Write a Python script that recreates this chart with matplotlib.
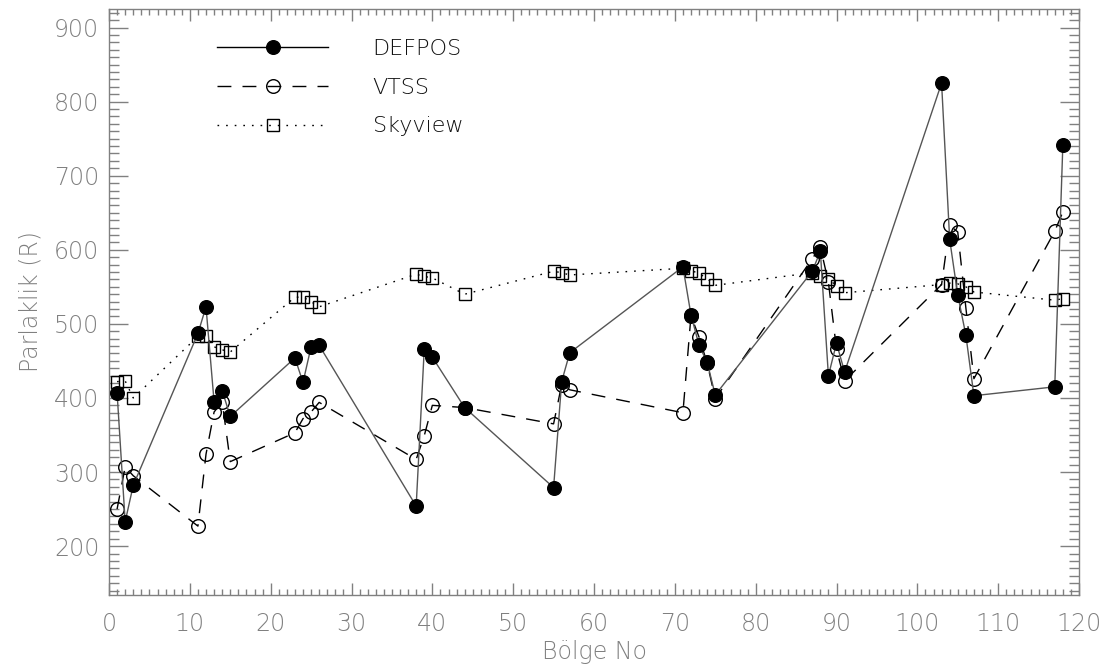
import matplotlib
matplotlib.use("Agg")
import matplotlib.pyplot as plt
from matplotlib.lines import Line2D
from matplotlib.ticker import MultipleLocator

# ---- data ----
wave_no = [1, 2, 3, 11, 12, 13, 14, 15, 23, 24, 25, 26, 38, 39, 40, 44,
           55, 56, 57, 71, 72, 73, 74, 75, 87, 88, 89, 90, 91,
           103, 104, 105, 106, 107, 117, 118]

defpos = [407, 233, 282, 487, 523, 395, 410, 375, 454, 421, 469, 471,
          254, 466, 455, 387, 279, 422, 461, 577, 512, 471, 448, 404,
          571, 598, 430, 474, 435, 825, 614, 539, 485, 403, 415, 741]

vtss = [250, 307, 295, 227, 324, 381, 395, 314, 353, 372, 381, 394,
        317, 349, 390, 387, 365, 418, 411, 380, 511, 482, 447, 399,
        588, 604, 556, 466, 423, 553, 633, 624, 522, 426, 625, 651]

skyview = [422, 423, 400, 483, 483, 469, 465, 462, 536, 536, 530, 523,
           567, 564, 562, 540, 571, 569, 566, 575, 572, 568, 561, 552,
           569, 565, 561, 551, 542, 553, 555, 554, 550, 543, 532, 534]

series_names = ["DEFPOS", "VTSS", "Skyview"]
x_label = "Bölge No"
y_label = "Parlaklik (R)"

# ---- style ----
GRAY = "#808080"
plt.rcParams["font.family"] = ["DejaVu Sans"]

fig = plt.figure(figsize=(11.12, 6.72), dpi=100)
W, H = 1112, 672
left, right, top, bottom = 109, 1079, 9, 595
ax = fig.add_axes([left / W, 1 - bottom / H, (right - left) / W, (bottom - top) / H])

ax.plot(wave_no, vtss, color="black", lw=1.0, dashes=(10, 8),
        marker="o", ms=9.8, mfc="none", mec="black", mew=1.0, zorder=3)
ax.plot(wave_no, skyview, color="black", lw=1.0, dashes=(1.2, 5),
        marker="s", ms=9, mfc="none", mec="black", mew=1.0, zorder=3)
ax.plot(wave_no, defpos, color="#555555", lw=1.0, ls="-",
        marker="o", ms=9.8, mfc="black", mec="black", mew=1.0, zorder=4)

ax.set_xlim(0, 120)
ax.set_ylim(134, 925)

ax.xaxis.set_major_locator(MultipleLocator(10))
ax.xaxis.set_minor_locator(MultipleLocator(1))
ax.yaxis.set_major_locator(MultipleLocator(100))
ax.yaxis.set_minor_locator(MultipleLocator(10))

for s in ax.spines.values():
    s.set_color(GRAY)
    s.set_linewidth(1.0)

ax.tick_params(axis="both", which="both", direction="in", colors=GRAY,
               top=True, right=True, labelsize=17, width=1.0)
ax.tick_params(axis="x", which="major", length=8.5, pad=12)
ax.tick_params(axis="x", which="minor", length=4.3)
ax.tick_params(axis="y", which="major", length=14, pad=7)
ax.tick_params(axis="y", which="minor", length=7)
for lbl in ax.get_xticklabels() + ax.get_yticklabels():
    lbl.set_fontweight("light")

ax.set_xlabel(x_label, fontsize=17, color=GRAY, labelpad=3, fontweight="light")
ax.set_ylabel(y_label, fontsize=17, color=GRAY, labelpad=8, fontweight="light")

handles = [
    Line2D([], [], color="black", lw=1.0, marker="o", ms=9.8, mfc="black", mec="black"),
    Line2D([], [], color="black", lw=1.0, dashes=(10, 8), marker="o", ms=9.8, mfc="none", mec="black"),
    Line2D([], [], color="black", lw=1.0, dashes=(1.2, 5), marker="s", ms=9, mfc="none", mec="black"),
]
leg = ax.legend(handles, series_names, loc="upper left",
                bbox_to_anchor=((217 - left) / (right - left), 1 - (39 - top) / (bottom - top)),
                frameon=False, fontsize=16, handlelength=5.0, handletextpad=2.0,
                labelspacing=0.84, borderpad=0, borderaxespad=0, numpoints=1)
for t in leg.get_texts():
    t.set_color("#111111")
    t.set_fontweight("light")

fig.savefig("out.png", dpi=100)
